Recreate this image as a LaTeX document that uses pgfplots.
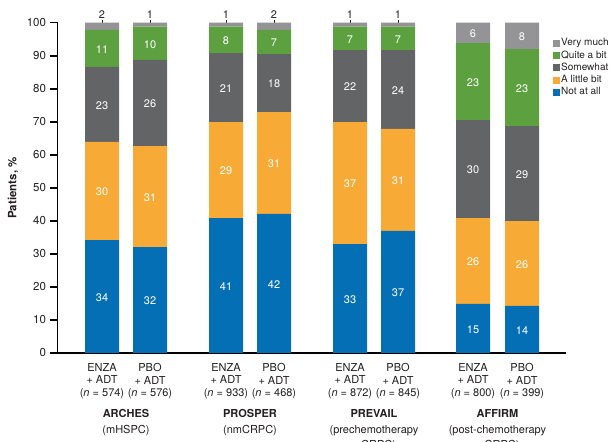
\documentclass[border=0pt]{standalone}
\usepackage{fontspec}
\setmainfont{TeX Gyre Heros}
\usepackage{pgfplots}
\usepackage{pgfplotstable}
\pgfplotsset{compat=1.18}
\definecolor{cNA}{RGB}{4,111,180}
\definecolor{cLB}{RGB}{247,171,54}
\definecolor{cSW}{RGB}{98,100,102}
\definecolor{cQB}{RGB}{93,160,63}
\definecolor{cVM}{RGB}{148,148,150}
\definecolor{ctxt}{RGB}{35,31,32}
% bar segment heights (%)
\pgfplotstableread{
x na lb sw qb vm
102 34.1 29.8 22.7 11.2 2.2
150 32.0 30.6 26.1 10.1 1.2
226 40.8 29.1 20.9 8.0 1.2
274 42.1 30.8 17.6 7.3 2.2
350 32.9 37.0 21.8 7.1 1.2
398 36.9 30.9 23.9 7.1 1.2
473 14.8 26.0 29.7 23.3 6.2
522 14.2 25.7 28.8 23.3 8.0
}\bardata
% in-bar labels: position and printed value
\pgfplotstableread{
x y t
102 17.05 34
102 49.0 30
102 75.25 23
102 92.2 11
150 16.0 32
150 47.3 31
150 75.65 26
150 93.75 10
226 20.4 41
226 55.35 29
226 80.35 21
226 94.8 8
274 21.05 42
274 57.5 31
274 81.7 18
274 94.15 7
350 16.45 33
350 51.4 37
350 80.8 22
350 95.25 7
398 18.45 37
398 52.35 31
398 79.75 24
398 95.25 7
473 7.4 15
473 27.8 26
473 55.65 30
473 82.15 23
473 96.9 6
522 7.1 14
522 27.05 26
522 54.3 29
522 80.35 23
522 96.0 8
}\labdata
\tikzset{
  vmlab/.style={font=\fontsize{11}{12}\selectfont, text=ctxt, inner sep=0pt},
  grplab/.style={anchor=north, align=center, font=\fontsize{11}{15.5}\selectfont, text=ctxt, inner sep=0pt},
}
\pgfplotsset{
  myframe/.style={at={(57.5pt,89.2pt)}, anchor=south west,
    scale only axis, width=508.5pt, height=330.1pt,
    xmin=57.5, xmax=566, ymin=0, ymax=100, clip=false},
}
\begin{document}
\begin{tikzpicture}
\useasboundingbox (0,0) rectangle (614pt,442pt);
\begin{axis}[
  myframe,
  ybar stacked, bar width=34,
  axis lines=left, axis line style={-, line width=1.6pt, black},
  ytick={0,10,...,100},
  tick align=outside, major tick length=8pt,
  ytick style={line width=1.6pt, black},
  xtick={102,150,226,274,350,398,473,522},
  xtick style={draw=none},
  xticklabels={{ENZA\\+ ADT\\(\textit{n} = 574)},{PBO\\+ ADT\\(\textit{n} = 576)},
               {ENZA\\+ ADT\\(\textit{n} = 933)},{PBO\\+ ADT\\(\textit{n} = 468)},
               {ENZA\\+ ADT\\(\textit{n} = 872)},{PBO\\+ ADT\\(\textit{n} = 845)},
               {ENZA\\+ ADT\\(\textit{n} = 800)},{PBO\\+ ADT\\(\textit{n} = 399)}},
  xticklabel style={align=center, font=\fontsize{11}{12.3}\selectfont, text=ctxt, inner sep=0pt, yshift=-2.5pt},
  yticklabel style={font=\fontsize{11.5}{13}\selectfont, text=ctxt},
  /pgf/number format/assume math mode=true,
  legend image code/.code={\fill[#1] (0pt,-3.5pt) rectangle (7pt,3.5pt);},
  reverse legend,
  legend cell align=left,
  legend style={at={(axis cs:553,95.5)}, anchor=north west, draw=none, fill=none,
    font=\fontsize{10}{11}\selectfont, inner sep=0pt, row sep=0.8pt,
    nodes={inner sep=1pt, text height=7.2pt, text depth=2.25pt, text=ctxt}},
]
\addplot[fill=cNA, draw=none] table[x=x, y=na] {\bardata};
\addlegendentry{Not at all}
\addplot[fill=cLB, draw=none] table[x=x, y=lb] {\bardata};
\addlegendentry{A little bit}
\addplot[fill=cSW, draw=none] table[x=x, y=sw] {\bardata};
\addlegendentry{Somewhat}
\addplot[fill=cQB, draw=none] table[x=x, y=qb] {\bardata};
\addlegendentry{Quite a bit}
\addplot[fill=cVM, draw=none] table[x=x, y=vm] {\bardata};
\addlegendentry{Very much}
\draw[line width=0.9pt, ctxt] (axis cs:102,99.3) -- (axis cs:102,100.8);
\draw[line width=0.9pt, ctxt] (axis cs:150,99.3) -- (axis cs:150,100.8);
\draw[line width=0.9pt, ctxt] (axis cs:226,99.3) -- (axis cs:226,100.8);
\draw[line width=0.9pt, ctxt] (axis cs:274,99.3) -- (axis cs:274,100.8);
\draw[line width=0.9pt, ctxt] (axis cs:350,99.3) -- (axis cs:350,100.8);
\draw[line width=0.9pt, ctxt] (axis cs:398,99.3) -- (axis cs:398,100.8);
\node[vmlab] at (axis cs:102,102.5) {2};
\node[vmlab] at (axis cs:150,102.5) {1};
\node[vmlab] at (axis cs:226,102.5) {1};
\node[vmlab] at (axis cs:274,102.5) {2};
\node[vmlab] at (axis cs:350,102.5) {1};
\node[vmlab] at (axis cs:398,102.5) {1};
\node[grplab] at (axis cs:126,-17.2) {\textbf{ARCHES}\\(mHSPC)};
\node[grplab] at (axis cs:250,-17.2) {\textbf{PROSPER}\\(nmCRPC)};
\node[grplab] at (axis cs:374,-17.2) {\textbf{PREVAIL}\\(prechemotherapy\\mCRPC)};
\node[grplab] at (axis cs:497.5,-17.2) {\textbf{AFFIRM}\\(post-chemotherapy\\mCRPC)};
\end{axis}
\begin{axis}[myframe, hide axis]
\addplot[only marks, mark=none, draw=none, nodes near coords, point meta=explicit symbolic,
  nodes near coords style={anchor=center, text=white, inner sep=0pt, yshift=-1pt, font=\fontsize{11}{12}\selectfont}]
  table[x=x, y=y, meta=t] {\labdata};
\end{axis}
\node[rotate=90, font=\fontsize{11.5}{13}\selectfont\bfseries, text=ctxt] at (13pt,254pt) {Patients, \%};
\end{tikzpicture}
\end{document}
